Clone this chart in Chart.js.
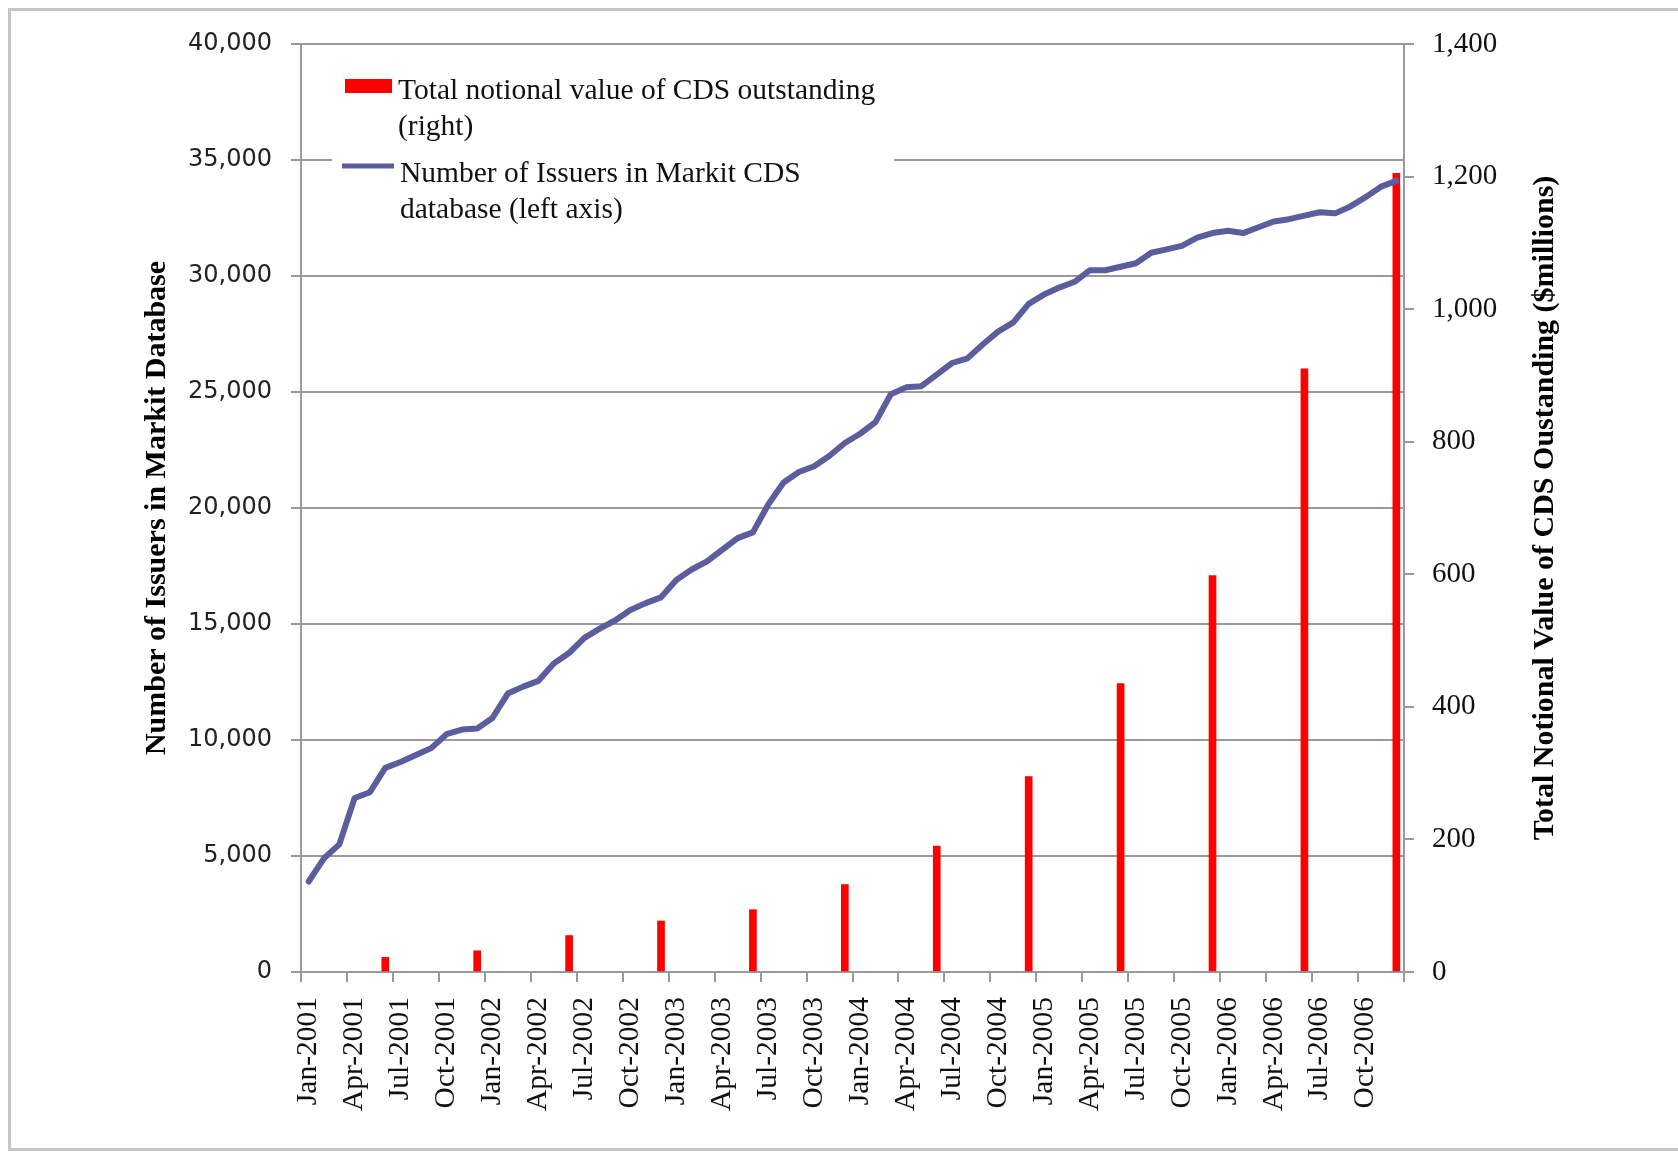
<!DOCTYPE html>
<html>
<head>
<meta charset="utf-8">
<title>CDS issuers and notional value</title>
<script src="https://cdn.jsdelivr.net/npm/chart.js@4.4.1/dist/chart.umd.min.js"></script>
<style>
  html, body { margin: 0; padding: 0; background: #fff; overflow: hidden; }
  #wrap { position: relative; width: 1678px; height: 1153px; }
  #frame { position: absolute; left: 8px; top: 8px; width: 1720px; height: 1137px;
           border: 3px solid #c6c6c6; border-right: none; }
  canvas { position: absolute; left: 0; top: 0; }
</style>
</head>
<body>
<div id="wrap">
  <div id="frame"></div>
  <canvas id="cdsChart" width="1678" height="1153"></canvas>
</div>
<script>
const monthNames = ["Jan", "Feb", "Mar", "Apr", "May", "Jun", "Jul", "Aug", "Sep", "Oct", "Nov", "Dec"];
const years = [2001, 2002, 2003, 2004, 2005, 2006];

// number of issuers in the Markit database, one value per month (left axis)
const issuerCounts = [
  3900, 4900, 5500, 7500, 7750, 8800, 9050, 9350, 9650, 10250, 10450, 10500,
  10950, 12000, 12300, 12550, 13300, 13750, 14400, 14800, 15150, 15600, 15900, 16150,
  16900, 17350, 17700, 18200, 18700, 18950, 20150, 21100, 21550, 21800, 22250, 22800,
  23200, 23700, 24900, 25200, 25250, 25750, 26250, 26450, 27050, 27600, 28000, 28800,
  29200, 29500, 29750, 30250, 30250, 30400, 30550, 31000, 31150, 31300, 31650, 31850,
  31950, 31850, 32100, 32350, 32450, 32600, 32750, 32700, 33000, 33400, 33850, 34100
];

// total notional value of CDS outstanding, semi-annual (right axis)
const notionalDates = ["Jun-2001", "Dec-2001", "Jun-2002", "Dec-2002", "Jun-2003", "Dec-2003",
                       "Jun-2004", "Dec-2004", "Jun-2005", "Dec-2005", "Jun-2006", "Dec-2006"];
const notionalValues = [22, 32, 55, 77, 94, 132, 190, 295, 435, 598, 910, 1205];

const barLegend = ["Total notional value of CDS outstanding", "(right)"];
const lineLegend = ["Number of Issuers in Markit CDS", "database (left axis)"];
const leftTitle = "Number of Issuers in Markit Database";
const rightTitle = "Total Notional Value of CDS Oustanding ($millions)";

const leftMax = 40000, leftStep = 5000;
const rightMax = 1400, rightStep = 200;

const monthLabels = [];
years.forEach(y => monthNames.forEach(m => monthLabels.push(m + "-" + y)));

const axisGray = "#9a9a9a";
const serif = "'Liberation Serif', 'Times New Roman', serif";

// legend drawn inside the plot, with a white box over the grid
const legendBox = {
  id: "legendBox",
  afterDraw(chart) {
    const ctx = chart.ctx;
    const bars = chart.data.datasets[0];
    const line = chart.data.datasets[1];
    ctx.save();
    ctx.fillStyle = "#fff";
    ctx.fillRect(332, 56, 562, 182);

    ctx.fillStyle = bars.backgroundColor;
    ctx.fillRect(345, 79, 47, 14);
    ctx.strokeStyle = line.borderColor;
    ctx.lineWidth = 5;
    ctx.beginPath();
    ctx.moveTo(342, 166);
    ctx.lineTo(394, 166);
    ctx.stroke();

    ctx.font = "29.5px " + serif;
    ctx.fillStyle = "#111";
    ctx.textAlign = "left";
    ctx.textBaseline = "alphabetic";
    barLegend.forEach((t, k) => ctx.fillText(t, 398, 99 + k * 36));
    lineLegend.forEach((t, k) => ctx.fillText(t, 400, 182 + k * 36));
    ctx.restore();
  }
};

// right axis title reads bottom-to-top like the left one
const rightTitlePlugin = {
  id: "rightTitle",
  afterDraw(chart) {
    const ctx = chart.ctx;
    const area = chart.chartArea;
    ctx.save();
    ctx.translate(1545, (area.top + area.bottom) / 2);
    ctx.rotate(-Math.PI / 2);
    ctx.font = "bold 30px " + serif;
    ctx.fillStyle = "#000";
    ctx.textAlign = "center";
    ctx.textBaseline = "middle";
    ctx.fillText(rightTitle, 0, 0);
    ctx.restore();
  }
};

const quarterly = c => (c.index === undefined || c.index % 3 === 0) ? axisGray : "rgba(0,0,0,0)";

new Chart(document.getElementById("cdsChart"), {
  type: "bar",
  data: {
    labels: monthLabels,
    datasets: [
      {
        type: "bar",
        label: barLegend.join(" "),
        data: notionalDates.map((d, i) => ({ x: d, y: notionalValues[i] })),
        backgroundColor: "#ff0000",
        barThickness: 7,
        yAxisID: "y1",
        order: 1
      },
      {
        type: "line",
        label: lineLegend.join(" "),
        data: issuerCounts,
        borderColor: "#5b5e9d",
        borderWidth: 6,
        pointRadius: 0,
        tension: 0,
        borderJoinStyle: "round",
        borderCapStyle: "round",
        yAxisID: "y",
        order: 0
      }
    ]
  },
  options: {
    responsive: false,
    animation: false,
    layout: { padding: { top: 44, left: 0, right: 0, bottom: 0 } },
    plugins: {
      legend: { display: false },
      tooltip: { enabled: false }
    },
    scales: {
      x: {
        afterFit: s => { s.height = 181; },
        grid: { drawOnChartArea: false, tickLength: 10, lineWidth: 2, color: quarterly, tickColor: quarterly },
        border: { color: axisGray, width: 2 },
        ticks: {
          autoSkip: false,
          minRotation: 90,
          maxRotation: 90,
          padding: 15,
          color: "#111",
          font: { family: serif, size: 29.5 },
          callback: (v, i) => i % 3 === 0 ? monthLabels[i] : ""
        }
      },
      y: {
        position: "left",
        min: 0,
        max: leftMax,
        afterFit: s => { s.width = 301; },
        grid: { color: axisGray, lineWidth: 2, tickLength: 10 },
        border: { color: axisGray, width: 2 },
        ticks: {
          stepSize: leftStep,
          padding: 19,
          color: "#222",
          font: { family: "'DejaVu Sans', Verdana, sans-serif", size: 24 },
          callback: v => v.toLocaleString("en-US")
        },
        title: {
          display: true,
          text: leftTitle,
          color: "#000",
          font: { family: serif, size: 30, weight: "bold" },
          padding: { top: 139, bottom: 0 }
        }
      },
      y1: {
        position: "right",
        min: 0,
        max: rightMax,
        afterFit: s => { s.width = 274; },
        grid: { drawOnChartArea: false, color: axisGray, lineWidth: 2, tickLength: 10 },
        border: { color: axisGray, width: 2 },
        ticks: {
          stepSize: rightStep,
          padding: 18,
          color: "#111",
          font: { family: serif, size: 29 },
          callback: v => v.toLocaleString("en-US")
        }
      }
    }
  },
  plugins: [legendBox, rightTitlePlugin]
});
</script>
</body>
</html>
